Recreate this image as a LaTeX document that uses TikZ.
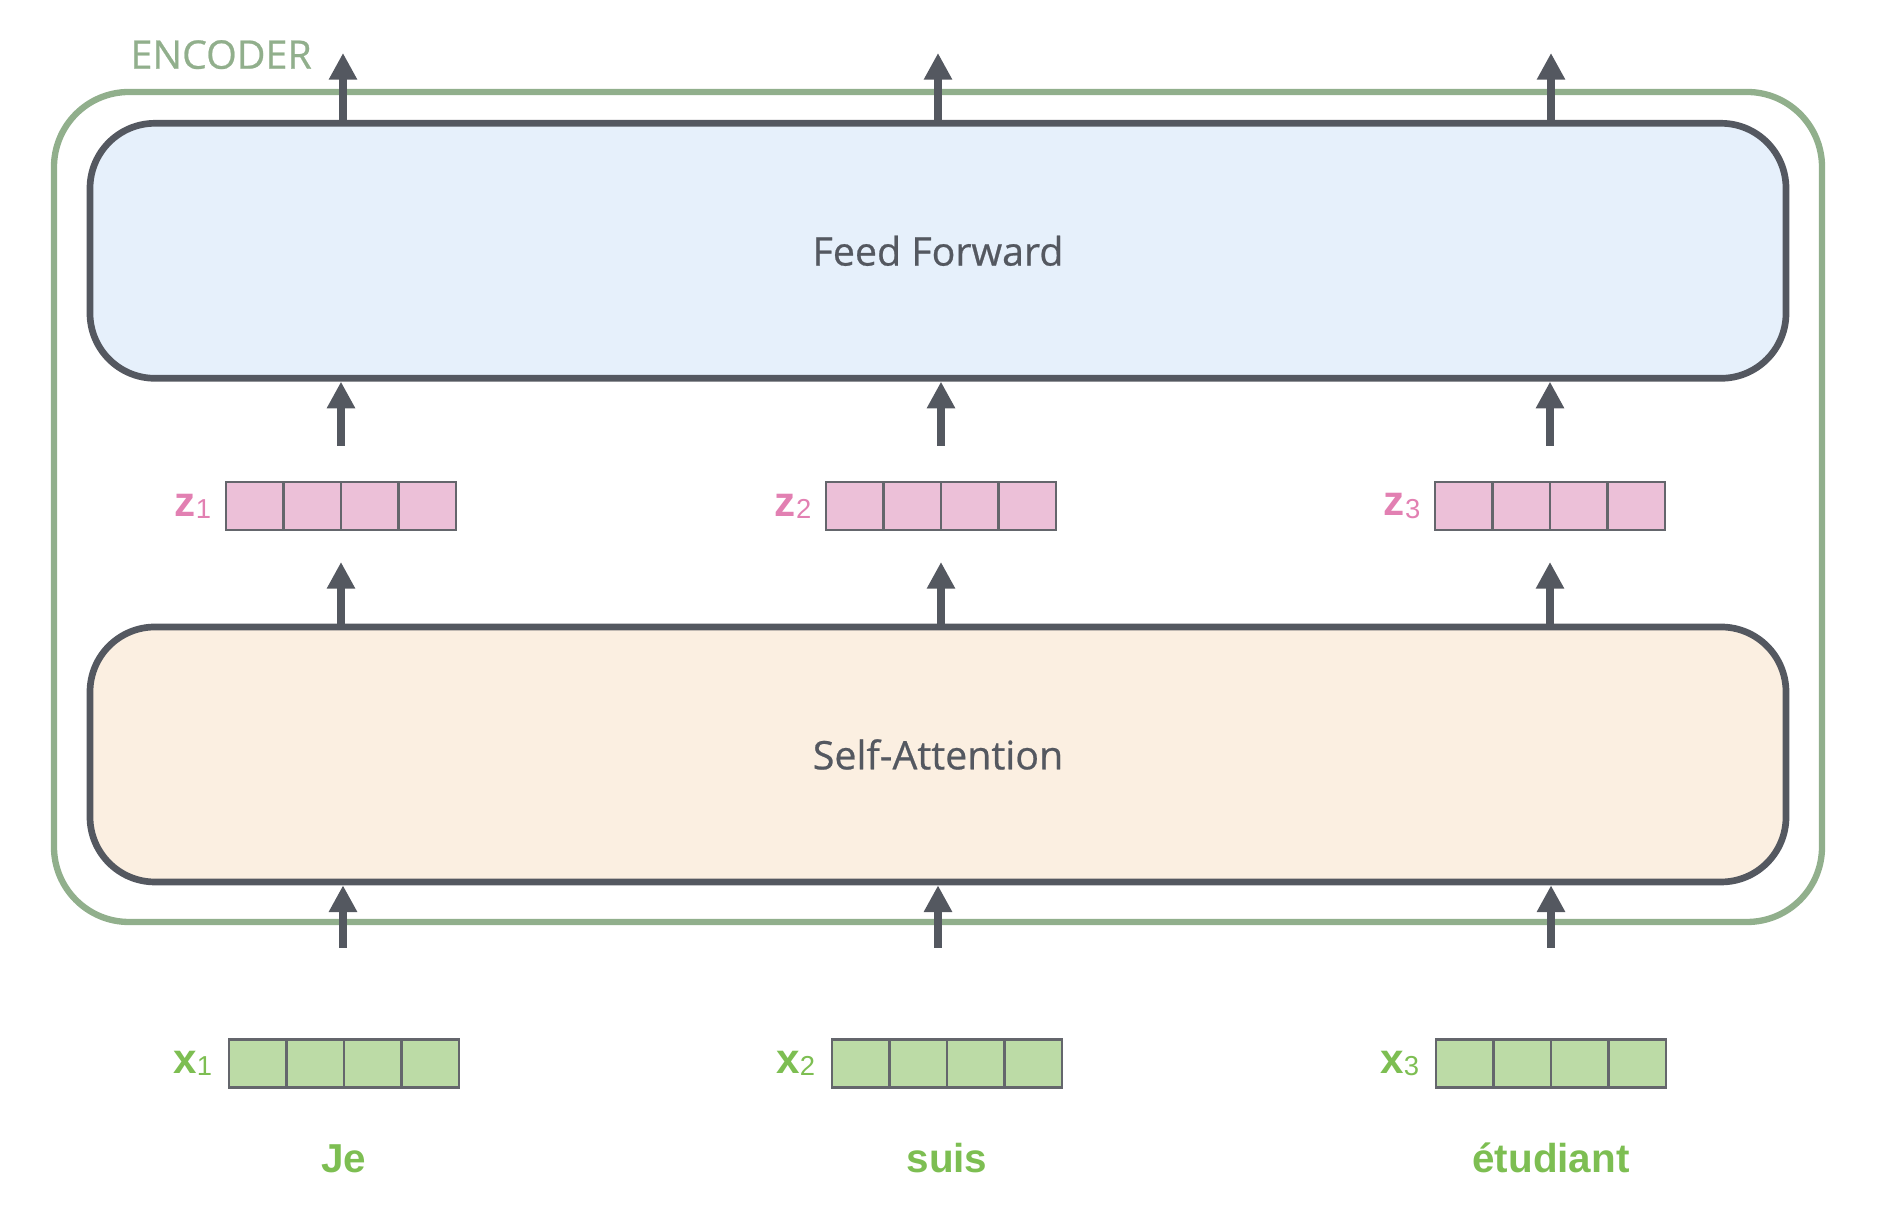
\documentclass[tikz,border=0pt]{standalone}
\usepackage{fontspec}
\setmainfont{Liberation Sans}
\newfontfamily\opensans{Open Sans}[UprightFeatures={FakeBold=0.6}]
\usetikzlibrary{arrows.meta,positioning}

\definecolor{encgreen}{RGB}{145,175,140}
\definecolor{boxline}{RGB}{84,88,96}
\definecolor{fffill}{RGB}{230,240,251}
\definecolor{safill}{RGB}{251,239,225}
\definecolor{zfill}{RGB}{236,192,216}
\definecolor{zpink}{RGB}{226,128,178}
\definecolor{xfill}{RGB}{188,219,166}
\definecolor{xgreen}{RGB}{125,190,82}
\definecolor{cellline}{RGB}{100,102,108}

% vector label: bold letter, light index
\newcommand{\veclab}[2]{\bfseries #1\fontsize{7.8}{9}\selectfont\mdseries\raisebox{-0.6pt}{#2}}

\tikzset{
  encframe/.style={draw=encgreen,line width=1.8pt,rounded corners=0.75cm,minimum width=17.68cm,minimum height=8.30cm},
  enctitle/.style={anchor=south west,inner sep=0pt,text=encgreen,font=\opensans\fontsize{11.2}{13}\selectfont},
  stage/.style={draw=boxline,line width=1.9pt,rounded corners=0.65cm,minimum width=16.96cm,minimum height=2.55cm,text=boxline,font=\opensans\fontsize{11.2}{13}\selectfont},
  cell/.style={draw=cellline,line width=0.6pt,minimum width=0.575cm,minimum height=0.48cm,inner sep=0pt,outer sep=0pt},
  zcell/.style={cell,fill=zfill},
  xcell/.style={cell,fill=xfill},
  zlab/.style={label={[text=zpink,inner sep=0pt,label distance=4pt,font=\fontsize{12}{13}\selectfont]left:#1}},
  xlab/.style={label={[text=xgreen,inner sep=0pt,label distance=4.6pt,font=\fontsize{12}{13}\selectfont]left:#1}},
  word/.style={anchor=base,inner sep=0pt,text=xgreen,font=\bfseries\fontsize{11.5}{13}\selectfont},
  flow/.style={draw=boxline,line width=2.1pt,-{Triangle[width=7.6pt,length=7.6pt]}},
}

\begin{document}
\begin{tikzpicture}
	\useasboundingbox (0,0) rectangle (18.82,12.22);

	\node[encframe] (enc) at (9.38,7.15) {};
	\node[enctitle] (title) at ([xshift=0.79cm,yshift=0.19cm]enc.north west) {ENCODER};

	\node[stage,fill=safill] (sa) at (9.38,4.675) {Self-Attention};
	\node[stage,fill=fffill,above=2.42cm of sa] (ff) {Feed Forward};

	% z vectors
	\node[zcell,zlab=\veclab{z}{1}] (z1a) at (2.5475,7.16) {};
	\node[zcell,right=0pt of z1a] (z1b) {};
	\node[zcell,right=0pt of z1b] (z1c) {};
	\node[zcell,right=0pt of z1c] (z1d) {};

	\node[zcell,zlab=\veclab{z}{2}] (z2a) at (8.5475,7.16) {};
	\node[zcell,right=0pt of z2a] (z2b) {};
	\node[zcell,right=0pt of z2b] (z2c) {};
	\node[zcell,right=0pt of z2c] (z2d) {};

	\node[zcell,zlab=\veclab{z}{3}] (z3a) at (14.6375,7.16) {};
	\node[zcell,right=0pt of z3a] (z3b) {};
	\node[zcell,right=0pt of z3b] (z3c) {};
	\node[zcell,right=0pt of z3c] (z3d) {};

	% x vectors
	\node[xcell,xlab=\veclab{x}{1}] (x1a) at (2.5775,1.585) {};
	\node[xcell,right=0pt of x1a] (x1b) {};
	\node[xcell,right=0pt of x1b] (x1c) {};
	\node[xcell,right=0pt of x1c] (x1d) {};

	\node[xcell,xlab=\veclab{x}{2}] (x2a) at (8.6075,1.585) {};
	\node[xcell,right=0pt of x2a] (x2b) {};
	\node[xcell,right=0pt of x2b] (x2c) {};
	\node[xcell,right=0pt of x2c] (x2d) {};

	\node[xcell,xlab=\veclab{x}{3}] (x3a) at (14.6475,1.585) {};
	\node[xcell,right=0pt of x3a] (x3b) {};
	\node[xcell,right=0pt of x3b] (x3c) {};
	\node[xcell,right=0pt of x3c] (x3d) {};

	\node[word] (w1) at ([yshift=-0.855cm]x1b.south east) {Je};
	\node[word] (w2) at ([yshift=-0.855cm]x2b.south east) {suis};
	\node[word] (w3) at ([yshift=-0.855cm]x3b.south east) {étudiant};

	\coordinate (in1) at (3.43,2.74);
	\coordinate (in2) at (9.38,2.74);
	\coordinate (in3) at (15.51,2.74);
	\coordinate (out1) at (3.43,11.69);
	\coordinate (out2) at (9.38,11.69);
	\coordinate (out3) at (15.51,11.69);

	\draw[flow] (in1) -- (sa.south -| in1);
	\draw[flow] (in2) -- (sa.south -| in2);
	\draw[flow] (in3) -- (sa.south -| in3);

	\draw[flow,shorten >=0.32cm] (sa.north -| z1b.south east) -- (z1b.south east);
	\draw[flow,shorten >=0.32cm] (sa.north -| z2b.south east) -- (z2b.south east);
	\draw[flow,shorten >=0.32cm] (sa.north -| z3b.south east) -- (z3b.south east);

	\draw[flow,shorten <=0.36cm] (z1b.north east) -- (ff.south -| z1b.north east);
	\draw[flow,shorten <=0.36cm] (z2b.north east) -- (ff.south -| z2b.north east);
	\draw[flow,shorten <=0.36cm] (z3b.north east) -- (ff.south -| z3b.north east);

	\draw[flow] (ff.north -| out1) -- (out1);
	\draw[flow] (ff.north -| out2) -- (out2);
	\draw[flow] (ff.north -| out3) -- (out3);
\end{tikzpicture}
\end{document}
